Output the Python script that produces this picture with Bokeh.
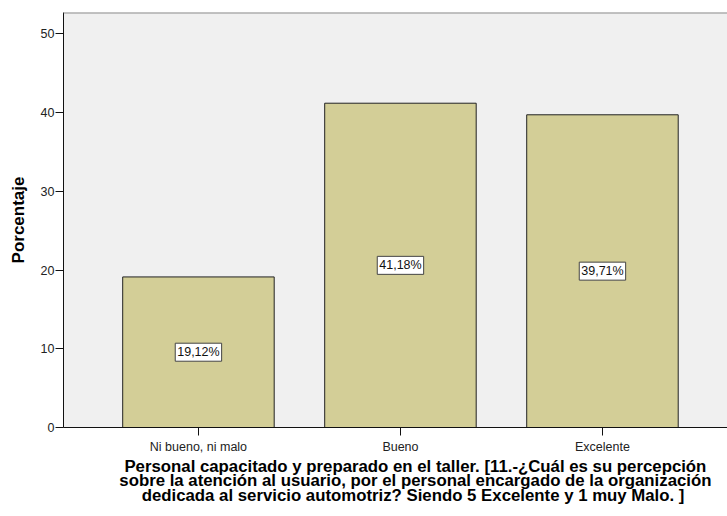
from bokeh.plotting import figure
from bokeh.models import Range1d, FixedTicker, ColumnDataSource, Span, LinearAxis
from bokeh.core.properties import value
from bokeh.embed import file_html
from bokeh.resources import INLINE

categories = ["Ni bueno, ni malo", "Bueno", "Excelente"]
percentages = [19.12, 41.18, 39.71]
y_ticks = [0, 10, 20, 30, 40, 50]
y_axis_title = "Porcentaje"
x_title_lines = [
    "Personal capacitado y preparado en el taller. [11.-¿Cuál es su percepción",
    "sobre la atención al usuario, por el personal encargado de la organización",
    "dedicada al servicio automotriz? Siendo 5 Excelente y 1 muy Malo.  ]",
]

xs = [i + 0.5 for i in range(len(categories))]
labels = [f"{v:.2f}%".replace(".", ",") for v in percentages]
src = ColumnDataSource(dict(x=xs, top=percentages, mid=[v / 2 for v in percentages], lab=labels))

FONT = "Liberation Sans"

p = figure(width=727, height=516, output_backend="svg", toolbar_location=None,
           x_range=Range1d(-0.168, 3.119), y_range=Range1d(0, 52.7),
           min_border_left=63, min_border_right=0, min_border_top=12, min_border_bottom=89)
p.background_fill_color = "#F0F0F0"
p.border_fill_color = "white"
p.outline_line_color = None
p.grid.visible = False

p.vbar(x="x", top="top", width=0.75, source=src, fill_color="#D3CE97",
       line_color="#222222", line_width=1)

p.add_layout(Span(location=52.7, dimension="width", line_color="#8C8C8C", line_width=2))

p.text(x="x", y="mid", text="lab", source=src, text_align="center",
       text_baseline="middle", text_font=value(FONT), text_font_size="12.5px",
       text_color="#111111", background_fill_color="white",
       border_line_color="#444444", border_line_width=1, padding=2)

# axes
p.yaxis.ticker = FixedTicker(ticks=y_ticks)
p.yaxis.minor_tick_line_color = None
p.yaxis.major_tick_out = 8
p.yaxis.major_tick_in = 0
p.yaxis.major_label_standoff = 1
p.yaxis.major_label_text_font = FONT
p.yaxis.major_label_text_font_size = "12.5px"
p.yaxis.major_label_text_color = "#222222"
p.yaxis.axis_line_color = "#111111"
p.yaxis.major_tick_line_color = "#111111"
p.yaxis.axis_label = y_axis_title
p.yaxis.axis_label_text_font = FONT
p.yaxis.axis_label_text_font_size = "17px"
p.yaxis.axis_label_text_font_style = "bold"
p.yaxis.axis_label_text_color = "black"
p.yaxis.axis_label_standoff = 10

p.xaxis.ticker = FixedTicker(ticks=xs)
p.xaxis.major_label_overrides = {x: c for x, c in zip(xs, categories)}
p.xaxis.minor_tick_line_color = None
p.xaxis.major_tick_out = 8
p.xaxis.major_tick_in = 0
p.xaxis.major_label_standoff = 4
p.xaxis.major_label_text_font = FONT
p.xaxis.major_label_text_font_size = "12.5px"
p.xaxis.major_label_text_color = "#222222"
p.xaxis.axis_line_color = "#111111"
p.xaxis.major_tick_line_color = "#111111"

# multi-line x-axis title, centred where the original places it
title_x = 1.574
title_axis = LinearAxis(ticker=FixedTicker(ticks=[title_x]),
                        major_label_overrides={title_x: "\n".join(x_title_lines)})
title_axis.axis_line_color = None
title_axis.major_tick_line_color = None
title_axis.minor_tick_line_color = None
title_axis.major_tick_out = 0
title_axis.major_tick_in = 0
title_axis.major_label_standoff = 0
title_axis.major_label_text_font = FONT
title_axis.major_label_text_font_size = "16.8px"
title_axis.major_label_text_font_style = "bold"
title_axis.major_label_text_color = "black"
title_axis.major_label_text_line_height = 0.77
p.add_layout(title_axis, "below")

open("out.html", "w").write(file_html(p, INLINE))
